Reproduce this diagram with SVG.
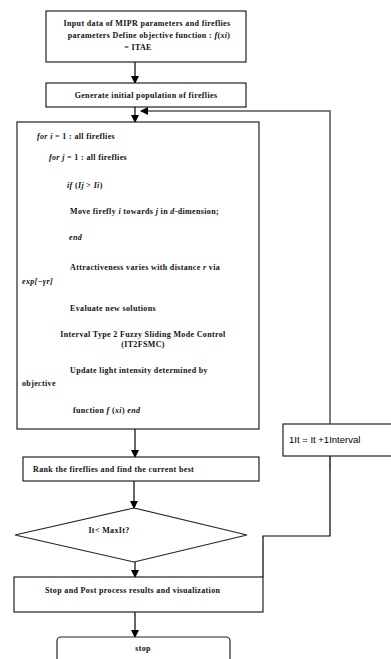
<svg xmlns="http://www.w3.org/2000/svg" width="391" height="659" viewBox="0 0 391 659">
<defs>
<marker id="ah" markerWidth="8" markerHeight="8" refX="7" refY="4" orient="auto" markerUnits="userSpaceOnUse">
<path d="M0,0 L8,4 L0,8 Z" fill="#000"/>
</marker>
<style>
.box{fill:#fff;stroke:#222;stroke-width:1.2}
.t{font-family:"Liberation Serif","Times New Roman",serif;font-size:8px;font-weight:bold;letter-spacing:0.35px;fill:#111}
.ti{font-style:italic}
.s{font-family:"Liberation Sans",Arial,sans-serif;font-size:9.5px;fill:#000}
.c{fill:none;stroke:#000;stroke-width:1.2}
.fb{fill:none;stroke:#555;stroke-width:1.5}
</style>
</defs>
<rect width="391" height="659" fill="#fff"/>
<g id="connectors">
<line class="c" x1="135" y1="62" x2="135" y2="83" marker-end="url(#ah)"/>
<line class="c" x1="135" y1="107" x2="135" y2="122" marker-end="url(#ah)"/>
<line class="c" x1="135" y1="429" x2="135" y2="457" marker-end="url(#ah)"/>
<line class="c" x1="134" y1="481" x2="134" y2="508" marker-end="url(#ah)"/>
<line class="c" x1="135" y1="562" x2="135" y2="577" marker-end="url(#ah)"/>
<line class="c" x1="135" y1="612" x2="135" y2="637" marker-end="url(#ah)"/>
<path class="c" d="M263,577 V536 H330 V440"/>
<path class="fb" d="M330,470 V111 H141" marker-end="url(#ah)"/>
</g>
<g id="n1">
<rect class="box" x="46" y="11" width="200" height="51"/>
<text class="t" x="147" y="26" text-anchor="middle">Input data of MIPR parameters and fireflies</text>
<text class="t" x="149" y="38" text-anchor="middle">parameters Define objective function : <tspan class="ti">f</tspan>(<tspan class="ti">xi</tspan>)</text>
<text class="t" x="138" y="50" text-anchor="middle">= ITAE</text>
</g>
<g id="n2">
<rect class="box" x="46" y="83" width="200" height="24"/>
<text class="t" x="146" y="98" text-anchor="middle">Generate initial population of fireflies</text>
</g>
<g id="n3">
<rect class="box" x="17" y="122" width="242" height="307"/>
<text class="t" x="37" y="139"><tspan class="ti">for i</tspan> = 1 : all fireflies</text>
<text class="t" x="49" y="160"><tspan class="ti">for j</tspan> = 1 : all fireflies</text>
<text class="t" x="67" y="188"><tspan class="ti">if</tspan> (<tspan class="ti">Ij</tspan> &gt; <tspan class="ti">Ii</tspan>)</text>
<text class="t" x="70" y="214">Move firefly <tspan class="ti">i</tspan> towards <tspan class="ti">j</tspan> in <tspan class="ti">d</tspan>-dimension;</text>
<text class="t ti" x="69" y="240">end</text>
<text class="t" x="70" y="270">Attractiveness varies with distance <tspan class="ti">r</tspan> via</text>
<text class="t ti" x="22" y="284">exp[−γr]</text>
<text class="t" x="70" y="311">Evaluate new solutions</text>
<text class="t" x="143" y="337" text-anchor="middle">Interval Type 2 Fuzzy Sliding Mode Control</text>
<text class="t" x="143" y="347" text-anchor="middle">(IT2FSMC)</text>
<text class="t" x="70" y="373">Update light intensity determined  by</text>
<text class="t" x="22" y="386">objective</text>
<text class="t" x="73" y="413">function <tspan class="ti">f</tspan> (<tspan class="ti">xi</tspan>) <tspan class="ti">end</tspan></text>
</g>
<g id="n4">
<rect class="box" x="23" y="457" width="236" height="24"/>
<text class="t" x="33" y="472">Rank the fireflies and find the current best</text>
</g>
<g id="n5">
<polygon class="box" points="134,508 247,535 134,562 15,535"/>
<text class="t" x="109" y="533" text-anchor="middle">It&lt; MaxIt?</text>
</g>
<g id="n6">
<rect class="box" x="14" y="577" width="249" height="35"/>
<text class="t" x="45" y="593">Stop and Post process results and visualization</text>
</g>
<g id="n7">
<rect class="box" x="57" y="637" width="173" height="30" rx="4"/>
<text class="t" x="143" y="651" text-anchor="middle">stop</text>
</g>
<g id="n8">
<rect class="box" x="283" y="424" width="112" height="32" stroke="#444"/>
<text class="s" x="289" y="443">1It = It +1Interval</text>
</g>
</svg>
